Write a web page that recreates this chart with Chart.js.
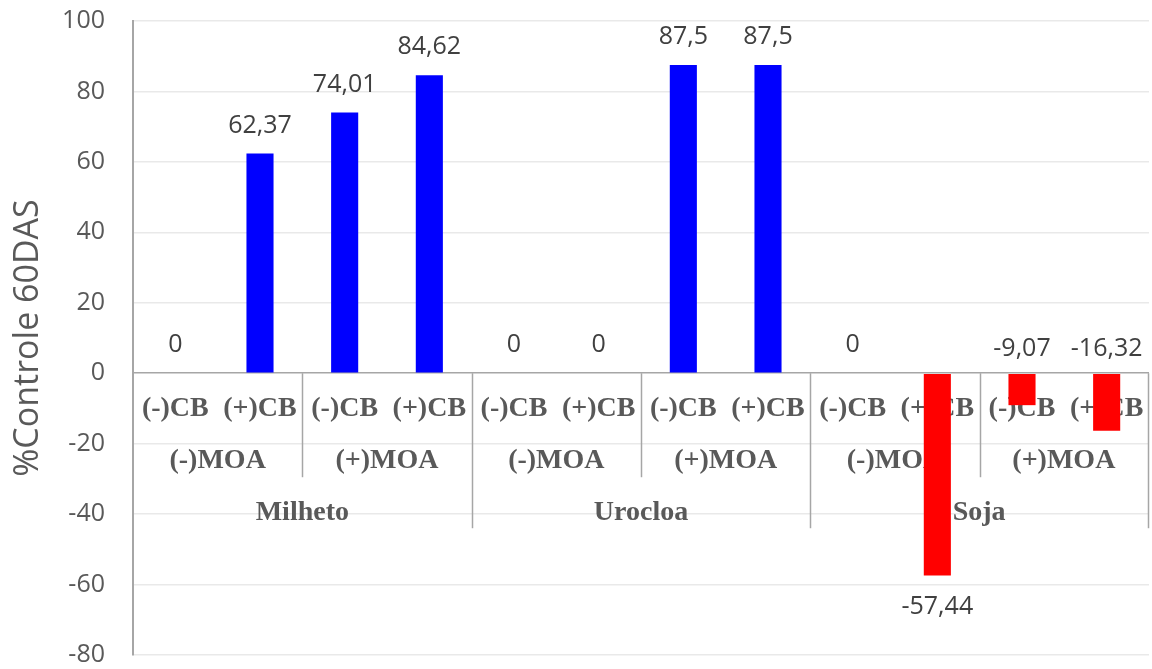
<!DOCTYPE html>
<html>
<head>
<meta charset="utf-8">
<title>%Controle 60DAS</title>
<script src="https://cdn.jsdelivr.net/npm/chart.js@4"></script>
<style>
  html, body { margin: 0; padding: 0; background: #ffffff; }
  #chart { display: block; }
</style>
</head>
<body>
<canvas id="chart" width="1152" height="669"></canvas>
<script>
// Treatment levels on the category axis (innermost to outermost)
const cbLabels = ['(-)CB', '(+)CB', '(-)CB', '(+)CB', '(-)CB', '(+)CB',
                  '(-)CB', '(+)CB', '(-)CB', '(+)CB', '(-)CB', '(+)CB'];
const moaLabels = ['(-)MOA', '(+)MOA', '(-)MOA', '(+)MOA', '(-)MOA', '(+)MOA'];
const cropLabels = ['Milheto', 'Urocloa', 'Soja'];

// Weed control (%) at 60 days after sowing
const controle = [0, 62.37, 74.01, 84.62, 0, 0, 87.5, 87.5, 0, -57.44, -9.07, -16.32];

// Value axis
const yMin = -80;
const yMax = 100;
const yStep = 20;
const yTitle = '%Controle 60DAS';

const POS_COLOR = '#0000ff';
const NEG_COLOR = '#ff0000';
const AXIS_GREY = '#a6a6a6';
const TEXT_GREY = '#595959';

const fmt = v => String(v).replace('.', ',');

// Multi-level category labels drawn along the zero line, under the bars
const groupLabels = {
  id: 'groupLabels',
  beforeDatasetsDraw(chart) {
    const { ctx, chartArea, scales: { x, y } } = chart;
    const y0 = y.getPixelForValue(0);
    const n = cbLabels.length;
    const edge = i => i === 0 ? chartArea.left
      : i === n ? chartArea.right - 1
      : (x.getPixelForValue(i - 1) + x.getPixelForValue(i)) / 2;

    ctx.save();
    ctx.strokeStyle = AXIS_GREY;
    ctx.lineWidth = 1.5;
    for (let i = 2; i <= n; i += 2) {
      const len = i % 4 === 0 ? 155 : 104;
      const ex = Math.round(edge(i)) + 0.5;
      ctx.beginPath();
      ctx.moveTo(ex, y0);
      ctx.lineTo(ex, y0 + len);
      ctx.stroke();
    }

    ctx.fillStyle = TEXT_GREY;
    ctx.font = 'bold 28px "Liberation Serif", "Times New Roman", serif';
    ctx.textAlign = 'center';
    ctx.textBaseline = 'middle';
    cbLabels.forEach((t, i) => {
      ctx.fillText(t, x.getPixelForValue(i), y0 + 36);
    });
    moaLabels.forEach((t, j) => {
      ctx.fillText(t, (edge(2 * j) + edge(2 * j + 2)) / 2, y0 + 88);
    });
    cropLabels.forEach((t, k) => {
      ctx.fillText(t, (edge(4 * k) + edge(4 * k + 4)) / 2, y0 + 140);
    });
    ctx.restore();
  },
  afterDatasetsDraw(chart) {
    const { ctx, scales: { x, y } } = chart;
    const y0 = y.getPixelForValue(0);
    ctx.save();
    ctx.fillStyle = '#404040';
    ctx.font = '25px "Open Sans", sans-serif';
    ctx.textAlign = 'center';
    ctx.textBaseline = 'middle';
    controle.forEach((v, i) => {
      let ly;
      if (v >= 0) ly = y.getPixelForValue(v) - 28;
      else if (v > -20) ly = y0 - 24;
      else ly = y.getPixelForValue(v) + 31;
      ctx.fillText(fmt(v), x.getPixelForValue(i), ly);
    });
    ctx.restore();
  }
};

new Chart(document.getElementById('chart'), {
  type: 'bar',
  data: {
    labels: cbLabels,
    datasets: [{
      data: controle,
      backgroundColor: controle.map(v => v < 0 ? NEG_COLOR : POS_COLOR),
      borderWidth: 0,
      categoryPercentage: 1,
      barPercentage: 0.32
    }]
  },
  options: {
    responsive: false,
    animation: false,
    devicePixelRatio: 1,
    layout: { padding: { top: 21, bottom: 14, left: 0, right: 3 } },
    plugins: {
      legend: { display: false },
      tooltip: { enabled: false }
    },
    scales: {
      x: { display: false },
      y: {
        min: yMin,
        max: yMax,
        ticks: {
          stepSize: yStep,
          padding: 28,
          color: TEXT_GREY,
          font: { family: '"Open Sans", sans-serif', size: 25 }
        },
        grid: {
          drawTicks: false,
          color: c => c.tick && c.tick.value === 0 ? AXIS_GREY : '#e9e9e9',
          lineWidth: 1.5
        },
        border: { display: true, color: AXIS_GREY, width: 2 },
        title: {
          display: true,
          text: yTitle,
          color: TEXT_GREY,
          font: { family: '"Open Sans", sans-serif', size: 34 },
          padding: { top: 8, bottom: 0 }
        },
        afterFit(scale) {
          scale.width = 133;
          scale.paddingTop = 0;
          scale.paddingBottom = 0;
        }
      }
    }
  },
  plugins: [groupLabels]
});
</script>
</body>
</html>
